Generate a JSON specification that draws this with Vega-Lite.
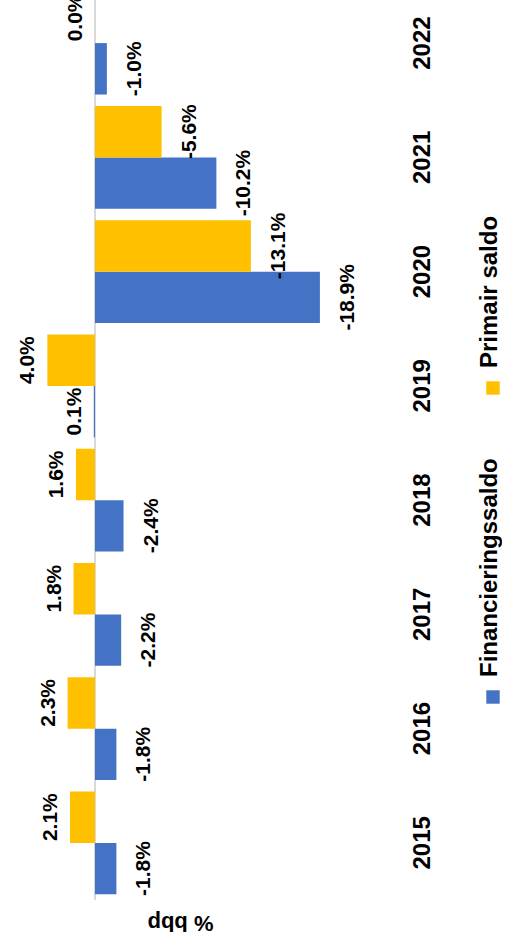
{
  "$schema": "https://vega.github.io/schema/vega-lite/v6.json",
  "width": 400,
  "height": 914,
  "padding": {"left": 0, "top": -15, "right": 0, "bottom": 0},
  "background": "white",
  "config": {
    "view": {"stroke": null},
    "font": "Liberation Sans",
    "locale": {"number": {"decimal": ".", "thousands": ",", "grouping": [3], "currency": ["", ""], "minus": "-"}}
  },
  "data": {
    "values": [
      {"year": "2015", "series": "Financieringssaldo", "v": -0.018},
      {"year": "2015", "series": "Primair saldo", "v": 0.021},
      {"year": "2016", "series": "Financieringssaldo", "v": -0.018},
      {"year": "2016", "series": "Primair saldo", "v": 0.023},
      {"year": "2017", "series": "Financieringssaldo", "v": -0.022},
      {"year": "2017", "series": "Primair saldo", "v": 0.018},
      {"year": "2018", "series": "Financieringssaldo", "v": -0.024},
      {"year": "2018", "series": "Primair saldo", "v": 0.016},
      {"year": "2019", "series": "Financieringssaldo", "v": 0.001},
      {"year": "2019", "series": "Primair saldo", "v": 0.040},
      {"year": "2020", "series": "Financieringssaldo", "v": -0.189},
      {"year": "2020", "series": "Primair saldo", "v": -0.131},
      {"year": "2021", "series": "Financieringssaldo", "v": -0.102},
      {"year": "2021", "series": "Primair saldo", "v": -0.056},
      {"year": "2022", "series": "Financieringssaldo", "v": -0.010},
      {"year": "2022", "series": "Primair saldo", "v": 0.000}
    ]
  },
  "encoding": {
    "y": {
      "field": "year", "type": "ordinal", "sort": "descending",
      "scale": {"paddingInner": 0.1, "paddingOuter": 0.05},
      "axis": {
        "orient": "right", "title": null, "ticks": false, "domain": false,
        "labelAngle": 270, "labelAlign": "center", "labelBaseline": "top",
        "labelPadding": 10, "labelFontSize": 24, "labelFontWeight": "bold", "labelColor": "black"
      }
    },
    "yOffset": {"field": "series", "scale": {"domain": ["Primair saldo", "Financieringssaldo"], "paddingInner": 0}}
  },
  "layer": [
    {
      "mark": {"type": "rule", "color": "#d9d9d9", "strokeWidth": 1.5},
      "encoding": {"x": {"datum": 0, "type": "quantitative"}, "y": null, "yOffset": null}
    },
    {
      "mark": {"type": "bar"},
      "encoding": {
        "x": {
          "field": "v", "type": "quantitative",
          "scale": {"domain": [-0.2563, 0.0798], "reverse": true, "nice": false, "zero": false},
          "axis": {
            "labels": false, "ticks": false, "domain": false, "grid": false,
            "title": "% bbp", "titleAngle": 180, "titleX": 180, "titleY": 22,
            "titleAlign": "center", "titleBaseline": "middle",
            "titleFontSize": 22, "titleFontWeight": "bold", "titleColor": "black"
          }
        },
        "color": {
          "field": "series", "type": "nominal",
          "scale": {"domain": ["Primair saldo", "Financieringssaldo"], "range": ["#ffc000", "#4472c4"]},
          "legend": {
            "orient": "none", "legendX": 481, "legendY": 390, "direction": "vertical",
            "title": null, "symbolType": "square", "symbolSize": 180,
            "labelFontSize": 24, "labelFontWeight": "bold", "labelColor": "black",
            "labelLimit": 0, "rowPadding": 63,
            "encode": {
              "labels": {
                "update": {
                  "angle": {"value": 270},
                  "x": {"value": 9},
                  "y": {"value": -8},
                  "align": {"value": "left"},
                  "baseline": {"value": "middle"}
                }
              }
            }
          }
        }
      }
    },
    {
      "transform": [{"filter": "datum.v >= 0"}],
      "mark": {"type": "text", "angle": 270, "align": "center", "baseline": "alphabetic", "dy": -13, "fontSize": 21, "fontWeight": "bold", "color": "black"},
      "encoding": {
        "x": {"field": "v", "type": "quantitative"},
        "text": {"field": "v", "type": "quantitative", "format": ".1%"}
      }
    },
    {
      "transform": [{"filter": "datum.v < 0"}],
      "mark": {"type": "text", "angle": 270, "align": "center", "baseline": "top", "dy": 17, "fontSize": 21, "fontWeight": "bold", "color": "black"},
      "encoding": {
        "x": {"field": "v", "type": "quantitative"},
        "text": {"field": "v", "type": "quantitative", "format": ".1%"}
      }
    }
  ]
}
